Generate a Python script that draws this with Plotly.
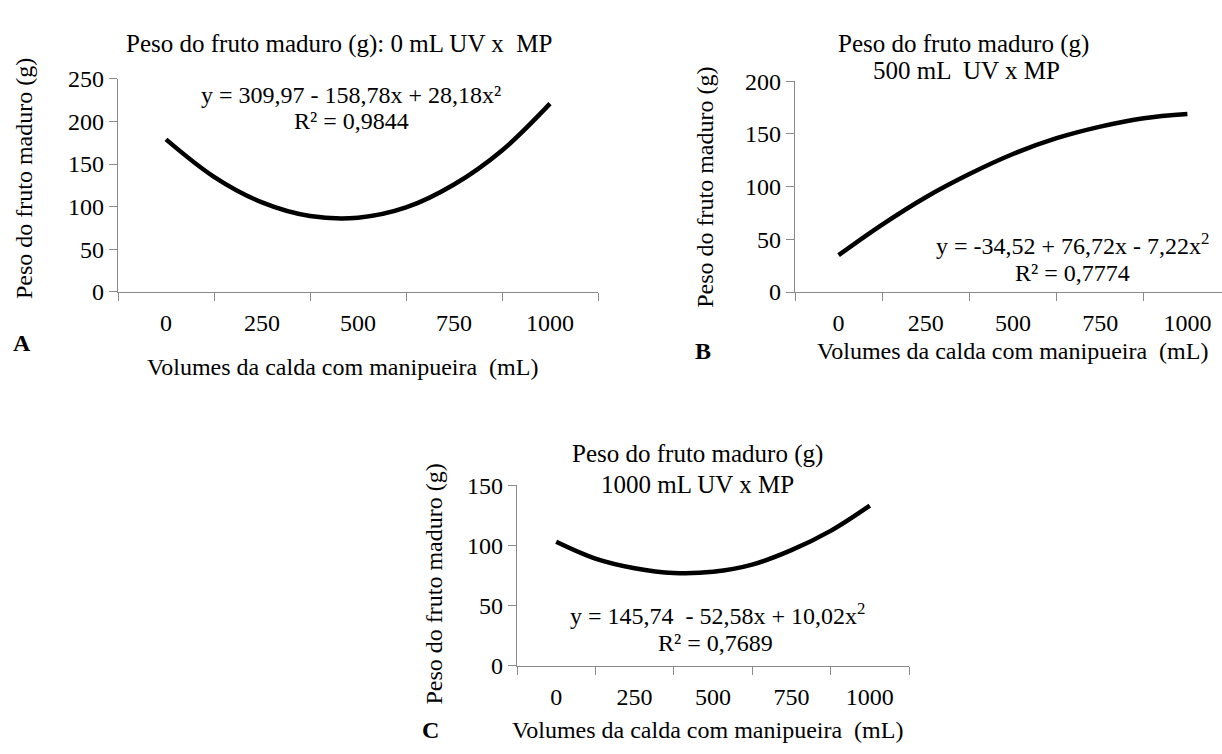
import plotly.graph_objects as go

W, H = 1222, 754

# Data (trend curves), x = volume of manipueira (mL)
volumes = [0, 125, 250, 375, 500, 625, 750, 875, 1000]
peso_0ml = [179, 135, 105, 89, 87, 99, 126, 166, 221]
peso_500ml = [35, 64, 90, 112, 131, 146, 157, 165, 169]
peso_1000ml = [103, 89, 81, 77, 78, 84, 96, 112, 133]

tick_vals = [0, 250, 500, 750, 1000]
tick_text = ["0", "250", "500", "750", "1000"]
boundaries = [-125, 125, 375, 625, 875, 1125]

FONT = "Liberation Serif"
AXC = "#8a8a8a"
FS = 24


def px(x):
    return x / W


def py(y):
    return 1 - y / H


fig = go.Figure()
for i, ys in enumerate([peso_0ml, peso_500ml, peso_1000ml]):
    sfx = "" if i == 0 else str(i + 1)
    fig.add_trace(go.Scatter(
        x=volumes, y=ys, mode="lines", line=dict(color="black", width=4.5, shape="spline"),
        xaxis="x" + sfx, yaxis="y" + sfx, showlegend=False, hoverinfo="skip"))


def xax(domain, rng, anchor):
    return dict(domain=domain, range=rng, anchor=anchor, showline=True, linecolor=AXC, linewidth=1.3,
                showgrid=False, zeroline=False, tickmode="array", tickvals=tick_vals, ticktext=tick_text,
                ticks="", ticklabelstandoff=9,
                minor=dict(tickmode="array", tickvals=boundaries, ticks="outside", ticklen=8,
                           tickcolor=AXC, tickwidth=1.3, showgrid=False),
                tickfont=dict(family=FONT, size=FS, color="black"))


def yax(domain, rng, anchor):
    return dict(domain=domain, range=rng, anchor=anchor, showline=True, linecolor=AXC, linewidth=1.3,
                showgrid=False, zeroline=False, dtick=50, ticks="outside", ticklen=8, tickcolor=AXC,
                tickwidth=1.3, tickfont=dict(family=FONT, size=FS, color="black"))


b_end = -125 + (W - 795) / 87.2 * 250

fig.update_layout(
    width=W, height=H, margin=dict(l=0, r=0, t=0, b=0),
    paper_bgcolor="white", plot_bgcolor="white",
    xaxis=xax([px(118), px(598)], [-125, 1125], "y"),
    yaxis=yax([py(288.7), py(68.3)], [0, 250], "x"),
    xaxis2=xax([px(795), 1.0], [-125, b_end], "y2"),
    yaxis2=yax([py(289), py(70.7)], [0, 200], "x2"),
    xaxis3=xax([px(517), px(909)], [-125, 1125], "y3"),
    yaxis3=yax([py(676), py(489)], [0, 150], "x3"),
)

texts = [
    ("Peso do fruto maduro (g): 0 mL UV x  MP", 339, 32, 0, False, 25),
    ("y = 309,97 - 158,78x + 28,18x²", 351, 85, 0, False, FS),
    ("R² = 0,9844", 351, 112, 0, False, FS),
    ("Volumes da calda com manipueira  (mL)", 342, 367, 0, False, FS),
    ("A", 22, 342, 0, True, FS),
    ("Peso do fruto maduro (g)", 24, 172, -90, False, FS),
    ("Peso do fruto maduro (g)", 963, 32, 0, False, 25),
    ("500 mL  UV x MP", 966, 60, 0, False, 25),
    ("y = -34,52 + 76,72x - 7,22x<sup>2</sup>", 1072, 239, 0, False, FS),
    ("R² = 0,7774", 1072, 269, 0, False, FS),
    ("Volumes da calda com manipueira  (mL)", 1012, 350, 0, False, FS),
    ("B", 703, 350, 0, True, FS),
    ("Peso do fruto maduro (g)", 705, 180, -90, False, FS),
    ("Peso do fruto maduro (g)", 697, 457, 0, False, 25),
    ("1000 mL UV x MP", 697, 488, 0, False, 25),
    ("y = 145,74  - 52,58x + 10,02x<sup>2</sup>", 717, 622, 0, False, FS),
    ("R² = 0,7689", 715, 652, 0, False, FS),
    ("Volumes da calda com manipueira  (mL)", 707, 743, 0, False, FS),
    ("C", 430, 743, 0, True, FS),
    ("Peso do fruto maduro (g)", 434, 592, -90, False, FS),
]
for t, x, y, ang, bold, fs in texts:
    fig.add_annotation(text=("<b>%s</b>" % t) if bold else t, x=px(x), y=py(y), xref="paper", yref="paper",
                       xanchor="center", yanchor="middle", showarrow=False, textangle=ang,
                       font=dict(family=FONT, size=fs, color="black"))

fig.write_html("out.html")
